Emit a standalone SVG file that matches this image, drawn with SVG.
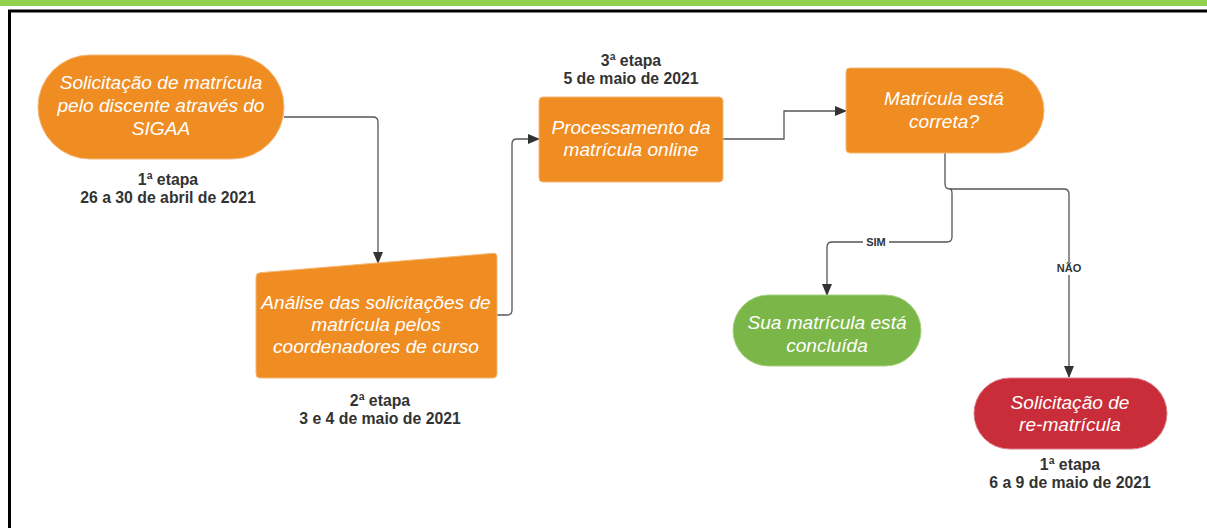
<svg xmlns="http://www.w3.org/2000/svg" width="1207" height="528" viewBox="0 0 1207 528">
<defs>
<style>
.node-text{font-family:"Liberation Sans",Arial,sans-serif;font-size:19.1px;font-style:italic;fill:#ffffff;text-anchor:middle}
.label{font-family:"Liberation Sans",Arial,sans-serif;font-size:15.8px;font-weight:bold;fill:#333333;text-anchor:middle}
.edge-label{font-family:"Liberation Sans",Arial,sans-serif;font-size:11px;font-weight:bold;fill:#333333;text-anchor:middle}
.orange{fill:#EF8D22;stroke:#f4b777;stroke-width:1}
.green{fill:#7AB648;stroke:#a6d07f;stroke-width:1}
.red{fill:#C92D39;stroke:#dd7f86;stroke-width:1}
.edge{fill:none;stroke:#555555;stroke-width:1.3}
</style>
<marker id="arrow" markerWidth="12" markerHeight="10" refX="11" refY="5" orient="auto" markerUnits="userSpaceOnUse">
<path d="M0,0 L12,5 L0,10 Z" fill="#333333"/>
</marker>
</defs>
<rect x="0" y="0" width="1207" height="528" fill="#ffffff"/>
<rect x="0" y="0" width="1207" height="6" fill="#92D050"/>
<rect x="9.5" y="11" width="1220" height="540" fill="none" stroke="#000000" stroke-width="3"/>

<g id="connectors">
<path class="edge" d="M284,117 H373 Q378,117 378,122 V263" marker-end="url(#arrow)"/>
<path class="edge" d="M497,315 H507 Q512,315 512,310 V144 Q512,139 517,139 H539" marker-end="url(#arrow)"/>
<path class="edge" d="M723,139 H784 V111 H846" marker-end="url(#arrow)"/>
<path class="edge" d="M945,153 V184 Q945,189 950,189 Q952,189 952,194 V237 Q952,242 947,242 H832 Q827,242 827,247 V295" marker-end="url(#arrow)"/>
<path class="edge" d="M950,189 H1064 Q1069,189 1069,194 V377" marker-end="url(#arrow)"/>
<rect x="863" y="235" width="26" height="13" fill="#ffffff"/>
<text class="edge-label" x="876" y="246">SIM</text>
<rect x="1054" y="262" width="30" height="13" fill="#ffffff"/>
<text class="edge-label" x="1069" y="272">NÃO</text>
</g>

<g id="node-solicitacao">
<rect class="orange" x="38" y="55" width="246" height="104" rx="52" ry="52"/>
<text class="node-text" x="161" y="89">Solicitação de matrícula</text>
<text class="node-text" x="161" y="112">pelo discente através do</text>
<text class="node-text" x="161" y="135">SIGAA</text>
</g>
<g id="label-etapa1">
<text class="label" x="168" y="185">1ª etapa</text>
<text class="label" x="168" y="203">26 a 30 de abril de 2021</text>
</g>

<g id="node-analise">
<path class="orange" d="M260,272.7 L493,253.3 Q497,253 497,257 V374 Q497,378 493,378 H260 Q256,378 256,374 V277 Q256,273 260,272.7 Z"/>
<text class="node-text" x="376" y="309">Análise das solicitações de</text>
<text class="node-text" x="376" y="331">matrícula pelos</text>
<text class="node-text" x="376" y="353">coordenadores de curso</text>
</g>
<g id="label-etapa2">
<text class="label" x="380" y="406">2ª etapa</text>
<text class="label" x="380" y="424">3 e 4 de maio de 2021</text>
</g>

<g id="node-processamento">
<rect class="orange" x="539" y="97" width="184" height="85" rx="4" ry="4"/>
<text class="node-text" x="631" y="134">Processamento da</text>
<text class="node-text" x="631" y="156">matrícula online</text>
</g>
<g id="label-etapa3">
<text class="label" x="631" y="66">3ª etapa</text>
<text class="label" x="631" y="84">5 de maio de 2021</text>
</g>

<g id="node-correta">
<path class="orange" d="M850,68 H1001.5 A42.5,42.5 0 0 1 1001.5,153 H850 Q846,153 846,149 V72 Q846,68 850,68 Z"/>
<text class="node-text" x="944" y="105">Matrícula está</text>
<text class="node-text" x="944" y="128">correta?</text>
</g>

<g id="node-concluida">
<rect class="green" x="733" y="295" width="188" height="71" rx="35.5" ry="35.5"/>
<text class="node-text" x="827" y="329">Sua matrícula está</text>
<text class="node-text" x="827" y="352">concluída</text>
</g>

<g id="node-rematricula">
<rect class="red" x="974" y="378" width="193" height="71" rx="35.5" ry="35.5"/>
<text class="node-text" x="1070" y="409">Solicitação de</text>
<text class="node-text" x="1070" y="431">re-matrícula</text>
</g>
<g id="label-etapa-rematricula">
<text class="label" x="1070" y="470">1ª etapa</text>
<text class="label" x="1070" y="488">6 a 9 de maio de 2021</text>
</g>
</svg>
